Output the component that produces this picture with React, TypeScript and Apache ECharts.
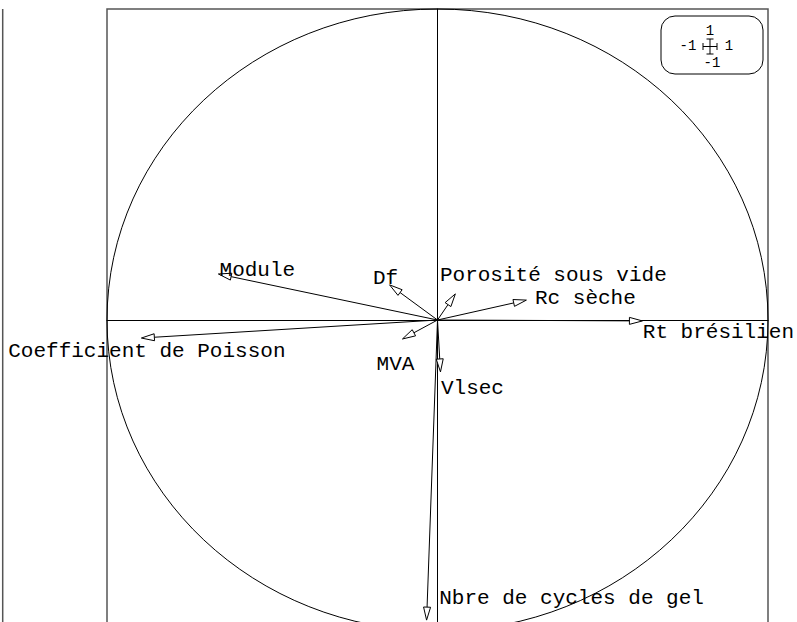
import React, { useEffect, useRef } from "react";
import * as echarts from "echarts";

// Variables of the correlation circle (axis 1 / axis 2 coordinates)
const variables = [
  "Rt brésilien",
  "Rc sèche",
  "Porosité sous vide",
  "Df",
  "Module",
  "Coefficient de Poisson",
  "MVA",
  "Vlsec",
  "Nbre de cycles de gel",
];
const axis1 = [0.62, 0.269, 0.054, -0.145, -0.663, -0.896, -0.106, 0.009, -0.033];
const axis2 = [-0.003, 0.064, 0.084, 0.113, 0.148, -0.058, -0.061, -0.167, -0.965];

// scale-box tick labels
const scaleLabels = ["1", "-1", "1", "-1"];

// label placement (pixel offsets of the label centre from the arrow tip)
const labelDx = [76, 59, 98, -4, 39, 5.5, -7, 32, 145];
const labelDy = [12, -2, -18, -6, -3, 13, 26, 17, -22];

const FONT = '"Courier New", "Liberation Mono", monospace';

export default function App() {
  const ref = useRef<HTMLDivElement>(null);

  useEffect(() => {
    document.body.style.margin = "0";
    document.body.style.overflow = "hidden";
    document.documentElement.style.overflow = "hidden";
    if (!ref.current) return;
    const chart = echarts.init(ref.current, undefined, { renderer: "svg" });

    const arrowData = variables.map((name, i) => [axis1[i], axis2[i], i]);

    const option: any = {
      animation: false,
      backgroundColor: "#ffffff",
      grid: {
        left: 107,
        top: 9,
        width: 661,
        height: 622,
        show: true,
        borderColor: "#555555",
        borderWidth: 1.5,
        backgroundColor: "transparent",
      },
      xAxis: {
        type: "value",
        min: -1,
        max: 1,
        axisLine: { show: true, onZero: true, lineStyle: { color: "#000", width: 1 } },
        axisTick: { show: false },
        axisLabel: { show: false },
        splitLine: { show: false },
      },
      yAxis: {
        type: "value",
        min: -1,
        max: 1,
        axisLine: { show: true, onZero: true, lineStyle: { color: "#000", width: 1 } },
        axisTick: { show: false },
        axisLabel: { show: false },
        splitLine: { show: false },
      },
      series: [
        {
          type: "custom",
          silent: true,
          clip: false,
          data: [[0, 0]],
          renderItem: (params: any, api: any) => {
            const c = api.coord([0, 0]);
            const s = api.size([1, 1]);
            return {
              type: "ellipse",
              shape: { cx: c[0], cy: c[1], rx: s[0], ry: s[1] },
              style: { fill: "none", stroke: "#000", lineWidth: 1 },
            };
          },
        },
        {
          type: "custom",
          silent: true,
          clip: false,
          data: arrowData,
          renderItem: (params: any, api: any) => {
            const i = api.value(2);
            const o = api.coord([0, 0]);
            const t = api.coord([api.value(0), api.value(1)]);
            const dx = t[0] - o[0];
            const dy = t[1] - o[1];
            const len = Math.sqrt(dx * dx + dy * dy) || 1;
            const ux = dx / len;
            const uy = dy / len;
            const hl = 13;
            const hw = 3.5;
            const bx = t[0] - ux * hl;
            const by = t[1] - uy * hl;
            const p1 = [bx - uy * hw, by + ux * hw];
            const p2 = [bx + uy * hw, by - ux * hw];
            return {
              type: "group",
              children: [
                {
                  type: "line",
                  shape: { x1: o[0], y1: o[1], x2: bx, y2: by },
                  style: { stroke: "#000", lineWidth: 1 },
                },
                {
                  type: "polygon",
                  shape: { points: [t, p1, p2] },
                  style: { fill: "#fff", stroke: "#000", lineWidth: 1 },
                },
                {
                  type: "text",
                  style: {
                    x: t[0] + labelDx[i],
                    y: t[1] + labelDy[i],
                    text: variables[i],
                    fill: "#000",
                    font: `21px ${FONT}`,
                    align: "center",
                    verticalAlign: "middle",
                  },
                },
              ],
            };
          },
        },
      ],
      graphic: [
        {
          type: "line",
          shape: { x1: 2.7, y1: 9, x2: 2.7, y2: 640 },
          style: { stroke: "#555555", lineWidth: 1.5 },
        },
        {
          type: "rect",
          shape: { x: 661, y: 16, width: 102, height: 58, r: 14 },
          style: { fill: "#fff", stroke: "#000", lineWidth: 1 },
        },
        // scale cross
        { type: "line", shape: { x1: 710, y1: 39, x2: 710, y2: 54 }, style: { stroke: "#000", lineWidth: 1 } },
        { type: "line", shape: { x1: 703, y1: 46.5, x2: 717, y2: 46.5 }, style: { stroke: "#000", lineWidth: 1 } },
        { type: "line", shape: { x1: 706.5, y1: 39, x2: 713.5, y2: 39 }, style: { stroke: "#000", lineWidth: 1 } },
        { type: "line", shape: { x1: 706.5, y1: 54, x2: 713.5, y2: 54 }, style: { stroke: "#000", lineWidth: 1 } },
        { type: "line", shape: { x1: 703, y1: 43, x2: 703, y2: 50 }, style: { stroke: "#000", lineWidth: 1 } },
        { type: "line", shape: { x1: 717, y1: 43, x2: 717, y2: 50 }, style: { stroke: "#000", lineWidth: 1 } },
        {
          type: "text",
          style: { x: 710, y: 31, text: scaleLabels[0], font: `14px ${FONT}`, fill: "#000", align: "center", verticalAlign: "middle" },
        },
        {
          type: "text",
          style: { x: 688, y: 46, text: scaleLabels[1], font: `14px ${FONT}`, fill: "#000", align: "center", verticalAlign: "middle" },
        },
        {
          type: "text",
          style: { x: 729, y: 46, text: scaleLabels[2], font: `14px ${FONT}`, fill: "#000", align: "center", verticalAlign: "middle" },
        },
        {
          type: "text",
          style: { x: 712, y: 63, text: scaleLabels[3], font: `14px ${FONT}`, fill: "#000", align: "center", verticalAlign: "middle" },
        },
      ],
    };

    chart.setOption(option);
    return () => chart.dispose();
  }, []);

  return <div ref={ref} style={{ width: 797, height: 640 }} />;
}
